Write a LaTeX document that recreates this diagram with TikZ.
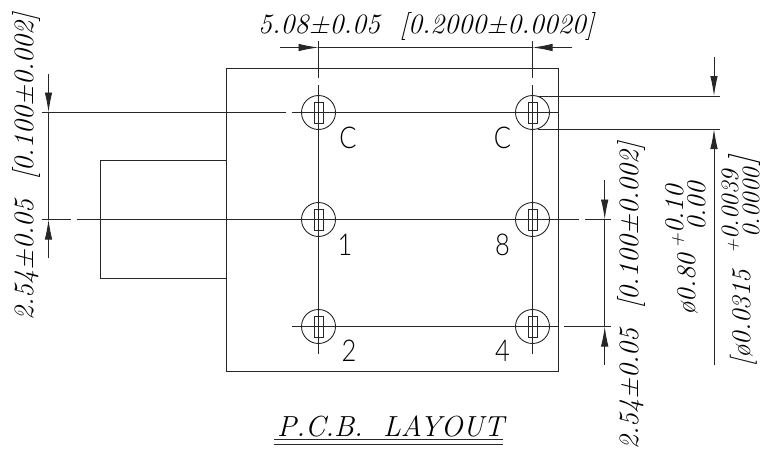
\documentclass[tikz,border=0pt]{standalone}
\usepackage{fontspec}
\usetikzlibrary{arrows.meta}
\newfontfamily\pinfam{Lato Light}
\newcommand{\dimfont}{\fontsize{28}{28}\selectfont\itshape}
\newcommand{\tolfont}{\fontsize{27}{27}\selectfont\itshape}
\newcommand{\nearfont}{\fontsize{25}{25}\selectfont\itshape}
\newcommand{\brkfont}{\fontsize{32}{32}\selectfont\itshape}
\newcommand{\pinfont}{\fontsize{30}{30}\selectfont\pinfam}
\newcommand{\pintext}[1]{\scalebox{0.85}[1]{#1}}
\newcommand{\smallplus}{\scalebox{.75}{+}}
\tikzset{
  x=1pt,y=-1pt,
  cad/.style={line width=0.9pt,draw=black!85},
  arrowline/.style={cad,-{Latex[length=20pt,width=7.5pt]}},
  dimtext/.style={inner sep=0pt,anchor=base west,font=\dimfont},
  toltext/.style={inner sep=0pt,anchor=base west,rotate=90,font=\tolfont},
  voltext/.style={dimtext,rotate=90},
  edgetext/.style={inner sep=0pt,anchor=base west,rotate=90,font=\nearfont},
  brktext/.style={inner sep=0pt,anchor=base west,rotate=90,font=\brkfont},
  pinlabel/.style={inner sep=0pt,anchor=center,font=\pinfont},
  pad/.style={circle,draw=black!85,line width=0.9pt,minimum size=34pt,inner sep=0pt},
  slot/.style={rectangle,draw=black!85,line width=0.9pt,minimum width=9pt,minimum height=21pt,inner sep=0pt}
}
\begin{document}
\begin{tikzpicture}
\useasboundingbox (0,0) rectangle (762,455);
% outlines
\coordinate (bodyNW) at (226.5,68);
\coordinate (bodySE) at (558,371);
\draw[cad] (bodyNW) rectangle (bodySE);
\coordinate (tabA) at (226.5,160.5);
\coordinate (tabB) at (100.5,160.5);
\coordinate (tabC) at (100.5,278);
\coordinate (tabD) at (226.5,278);
\draw[cad] (tabA) -- (tabB) -- (tabC) -- (tabD);
% pads
\foreach \n/\px/\py in {pa/318.5/112.5,pb/532.5/112.5,pc/318.5/219.5,pd/532.5/219.5,pe/318.5/326.5,pf/532.5/326.5}{
  \node[pad] (\n) at (\px,\py) {};
  \node[slot] (\n s) at (\px,\py) {};
}
% centre lines
\coordinate (l1a) at (318.5,41); \coordinate (l1b) at (318.5,78);
\coordinate (l1c) at (318.5,85); \coordinate (l1d) at (318.5,354);
\coordinate (l2a) at (532.5,41); \coordinate (l2b) at (532.5,78);
\coordinate (l2c) at (532.5,85); \coordinate (l2d) at (532.5,354);
\draw[cad] (l1a) -- (l1b) (l1c) -- (l1d) (l2a) -- (l2b) (l2c) -- (l2d);
\coordinate (h1a) at (42,112.5); \coordinate (h1b) at (286,112.5);
\coordinate (h1c) at (292,112.5); \coordinate (h1d) at (558,112.5);
\coordinate (h2a) at (42,219.5); \coordinate (h2b) at (71,219.5);
\coordinate (h2c) at (76.5,219.5); \coordinate (h2d) at (579,219.5);
\coordinate (h2e) at (585,219.5); \coordinate (h2f) at (611,219.5);
\coordinate (h3a) at (292,326.5); \coordinate (h3b) at (558,326.5);
\coordinate (h3c) at (564,326.5); \coordinate (h3d) at (611,326.5);
\draw[cad] (h1a) -- (h1b) (h1c) -- (h1d) (h2a) -- (h2b) (h2c) -- (h2d) (h2e) -- (h2f) (h3a) -- (h3b) (h3c) -- (h3d);
\coordinate (e1a) at (538,96); \coordinate (e1b) at (720,96);
\coordinate (e2a) at (538,129); \coordinate (e2b) at (720,129);
\draw[cad] (e1a) -- (e1b) (e2a) -- (e2b);
% dimension lines
\coordinate (t0) at (280,47.5); \coordinate (t1) at (318.5,47.5);
\coordinate (t2) at (532.5,47.5); \coordinate (t3) at (571.5,47.5);
\draw[cad] (t1) -- (t2);
\draw[arrowline] (t0) -- (t1);
\draw[arrowline] (t3) -- (t2);
\coordinate (a0) at (48.5,74); \coordinate (a1) at (48.5,112.5);
\coordinate (a2) at (48.5,219.5); \coordinate (a3) at (48.5,258);
\draw[cad] (a1) -- (a2);
\draw[arrowline] (a0) -- (a1);
\draw[arrowline] (a3) -- (a2);
\coordinate (b0) at (604.7,180); \coordinate (b1) at (604.7,219.5);
\coordinate (b2) at (604.7,326.5); \coordinate (b3) at (604.7,365);
\draw[cad] (b1) -- (b2);
\draw[arrowline] (b0) -- (b1);
\draw[arrowline] (b3) -- (b2);
\coordinate (c0) at (714,57); \coordinate (c1) at (714,96);
\coordinate (c2) at (714,365); \coordinate (c3) at (714,129);
\draw[arrowline] (c0) -- (c1);
\draw[arrowline] (c2) -- (c3);
% pin labels
\node[pinlabel] (lc1) at (348,138) {\pintext{C}};
\node[pinlabel] (lc2) at (502.5,138) {\pintext{C}};
\node[pinlabel] (l1) at (345,245) {\pintext{1}};
\node[pinlabel] (l8) at (502.5,245) {\pintext{8}};
\node[pinlabel] (l2) at (349,351) {\pintext{2}};
\node[pinlabel] (l4) at (502.5,351) {\pintext{4}};
% dimension texts
\node[dimtext] (dtop) at (258,33.5) {5.08±0.05\ \ [0.2000±0.0020]};
\node[voltext] (dleft) at (33,321) {2.54±0.05\ \ [0.100±0.002]};
\node[voltext] (dright) at (638,450) {2.54±0.05\ \ [0.100±0.002]};
\node[toltext] (phi) at (695,316) {ø0.80};
\node[toltext] (phip) at (683,249) {\smallplus 0.10};
\node[toltext] (phin) at (705,231) {0.00};
\node[toltext] (phib) at (750,367) {[ø0.0315};
\node[edgetext] (phibp) at (738,254) {\smallplus 0.0039};
\node[edgetext] (phibn) at (759,238) {0.0000};
\node[brktext] (phibr) at (752,166) {]};
% title
\node[dimtext,font=\fontsize{29}{29}\selectfont\itshape] (title) at (277,436) {P.C.B.\ \ LAYOUT};
\coordinate (u1a) at (274,439.5); \coordinate (u1b) at (503,439.5);
\coordinate (u2a) at (274,444); \coordinate (u2b) at (503,444);
\draw[cad] (u1a) -- (u1b) (u2a) -- (u2b);
\end{tikzpicture}
\end{document}
